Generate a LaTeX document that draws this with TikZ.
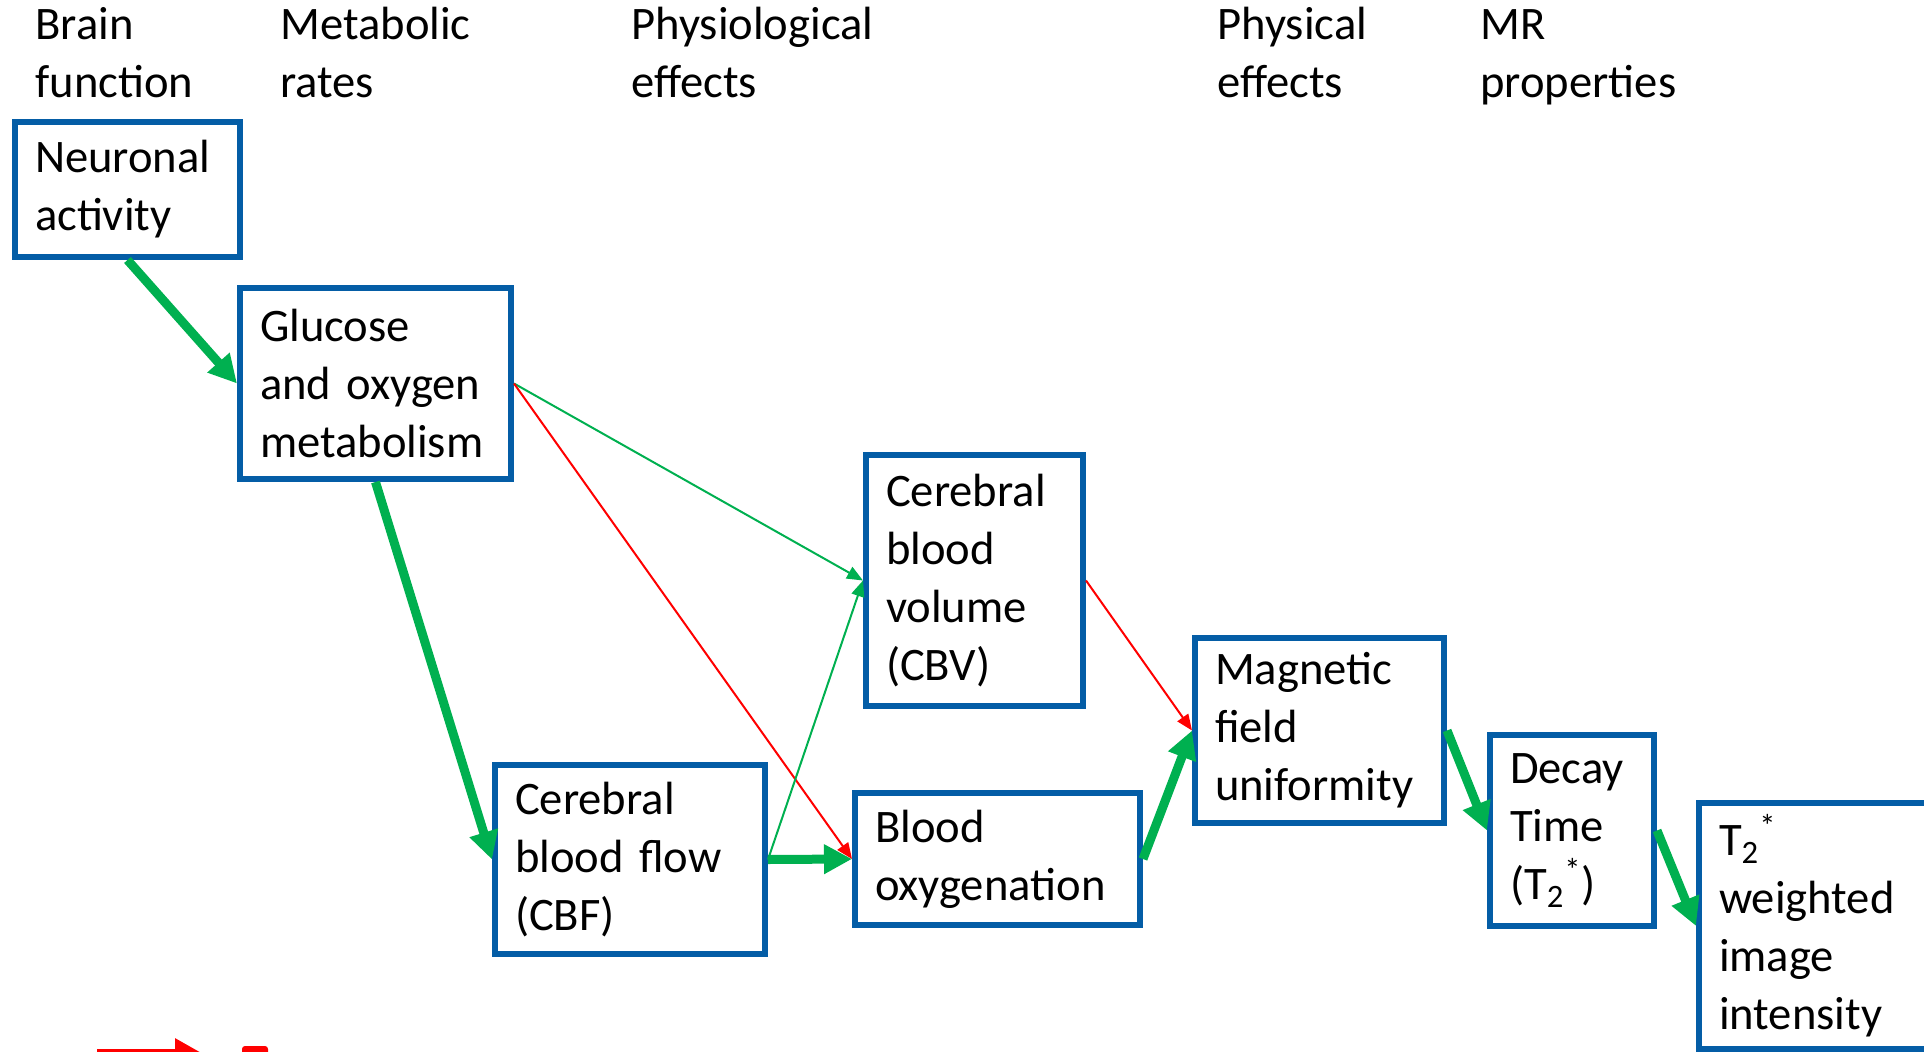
\documentclass[tikz,border=0pt]{standalone}
\usepackage{fontspec}
\setmainfont{Carlito}
\usepackage{xcolor}
\usepackage{tikz}
\usetikzlibrary{arrows.meta}

\definecolor{boxblue}{RGB}{4,93,166}
\definecolor{arrowgreen}{RGB}{0,176,80}
\definecolor{arrowred}{RGB}{255,0,0}

\begin{document}
\begin{tikzpicture}[
    x=0.5pt, y=-0.5pt,
    heading/.style={anchor=base west, inner sep=0pt, align=left, font=\fontsize{23.3pt}{29pt}\selectfont},
    stage/.style={rectangle, draw=boxblue, line width=3pt, fill=white, align=left, inner xsep=10pt, inner ysep=0pt, font=\fontsize{23.3pt}{29pt}\selectfont},
    strong/.style={draw=arrowgreen, line width=4.5pt, -{Triangle[length=14pt, width=14pt]}},
    weakup/.style={draw=arrowgreen, line width=1pt, -{Triangle[length=8pt, width=6.5pt]}},
    weakdown/.style={draw=arrowred, line width=1pt, -{Triangle[length=8pt, width=6.5pt]}}
]
\useasboundingbox (0,0) rectangle (1924,1051);
\clip (0,0) rectangle (1924,1051);

% Column headings (base = last line)
\node[heading] (hbrain) at (35,97) {Brain\\function};
\node[heading] (hmetab) at (280,97) {Metabolic\\rates};
\node[heading] (hphysio) at (631,97) {Physiological\\effects};
\node[heading] (hphysic) at (1217,97) {Physical\\effects};
\node[heading] (hmr) at (1480,97) {MR\\properties};

% Stages
\node[stage, text width=92.5pt, minimum height=67.5pt] (neur) at (127.5,189.5) {Neuronal\\activity};
\node[stage, text width=115.5pt, minimum height=95.5pt] (gluc) at (375.5,383.5) {Glucose\\and oxygen\\metabolism};
\node[stage, text width=88.5pt, minimum height=125.5pt] (cbv) at (974.5,580.5) {Cerebral\\blood\\volume\\(CBV)};
\node[stage, text width=115pt, minimum height=94.5pt] (cbf) at (630,859.5) {Cerebral\\blood flow\\(CBF)};
\node[stage, text width=122.5pt, minimum height=66pt] (oxy) at (997.5,859) {Blood\\oxygenation};
\node[stage, text width=104.5pt, minimum height=92.5pt] (mag) at (1319.5,730.5) {Magnetic\\field\\uniformity};
\node[stage, text width=62pt, minimum height=95.5pt] (decay) at (1572,830.5) {Decay\\Time\\(T\textsubscript{2}\textsuperscript{*})};
\node[stage, text width=100.5pt, minimum height=123pt] (tw) at (1819.5,926) {T\textsubscript{2}\textsuperscript{*}\\weighted\\image\\intensity};

% Arrows
\draw[strong] (neur.south) -- (gluc.west);
\draw[strong] (gluc.south) -- (cbf.west);
\draw[weakup] (gluc.east) -- (cbv.west);
\draw[weakdown] (gluc.east) -- (oxy.west);
\draw[weakup] (cbf.east) -- (cbv.west);
\draw[strong] (cbf.east) -- (oxy.west);
\draw[weakdown] (cbv.east) -- (mag.west);
\draw[strong] (oxy.east) -- (mag.west);
\draw[strong] (mag.east) -- (decay.west);
\draw[strong] (decay.east) -- (tw.west);

% Legend (cut off)
\coordinate (legfrom) at (97,1052);
\coordinate (legto) at (200,1052);
\draw[draw=arrowred, line width=3pt, -{Triangle[length=12.5pt, width=13pt]}] (legfrom) -- (legto);
\fill[arrowred, rounded corners=1.5pt] (242,1046) rectangle (268,1062);

\end{tikzpicture}
\end{document}
